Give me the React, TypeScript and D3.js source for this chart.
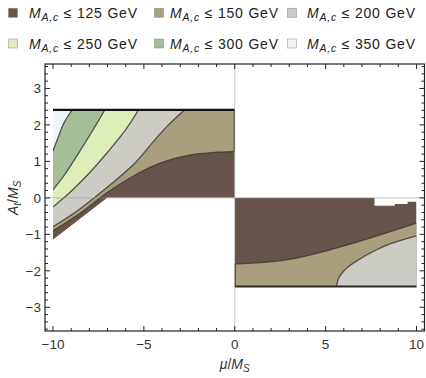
import React from "react";
import * as d3 from "d3";

type Pt = [number, number];

const levels = [125, 150, 200, 250, 300, 350];
const levelColors = ["#66544a", "#a99f7d", "#cccbc4", "#ddeeb8", "#a6be97", "#eef6fa"];

const xTicks = [-10, -5, 0, 5, 10];
const yTicks = [-3, -2, -1, 0, 1, 2, 3];

// mu < 0 half: where a solution exists
const leftDomain: Pt[] = [[-10, -1.15], [-7, 0], [0, 0], [0, 2.41], [-10, 2.41]];
// contour lines, each one is the lower edge of the next level
const left150: Pt[] = [[-10, -0.9], [-8.5, -0.42], [-7, 0.15], [-5.5, 0.62], [-4, 0.97], [-2.5, 1.17], [-1, 1.25], [0, 1.27]];
const left200: Pt[] = [[-10, -0.79], [-8.6, -0.33], [-6.75, 0.4], [-5.5, 0.95], [-4.55, 1.5], [-3.65, 2.0], [-2.76, 2.41]];
const left250: Pt[] = [[-10, -0.25], [-9, 0.18], [-8, 0.68], [-7, 1.25], [-6, 1.87], [-5.3, 2.41]];
const left300: Pt[] = [[-10, 0.22], [-9.3, 0.68], [-8.6, 1.22], [-7.85, 1.82], [-7.15, 2.41]];
const left350: Pt[] = [[-10, 1.28], [-9.7, 1.68], [-9.4, 2.05], [-8.95, 2.41]];

// mu > 0 half
const rightDomain: Pt[] = [[0, 0], [7.7, 0], [7.7, -0.21], [8.8, -0.21], [8.8, -0.17], [9.5, -0.17], [9.5, -0.1], [10, -0.1], [10, -2.43], [0, -2.43]];
const right150: Pt[] = [[0, -1.81], [1.6, -1.77], [3.4, -1.65], [5.2, -1.43], [6.8, -1.2], [8.6, -0.92], [10, -0.69]];
const right200: Pt[] = [[5.6, -2.43], [5.68, -2.25], [5.9, -2.06], [6.3, -1.87], [6.8, -1.7], [7.7, -1.45], [8.6, -1.25], [10, -1.04]];

const W = 426;
const H = 378;
const font = "'Liberation Sans', Arial, sans-serif";

export default function App() {
  const x = d3.scaleLinear().domain([-10.44, 10.44]).range([45, 424.5]);
  const y = d3.scaleLinear().domain([-3.65, 3.67]).range([331, 64]);

  const smooth = d3
    .line<Pt>()
    .x((d) => x(d[0]))
    .y((d) => y(d[1]))
    .curve(d3.curveCatmullRom.alpha(0.5));
  const poly = (pts: Pt[]) => "M" + pts.map((p) => `${x(p[0])},${y(p[1])}`).join("L") + "Z";
  const region = (curve: Pt[], closing: Pt[]) =>
    smooth(curve) + closing.map((p) => `L${x(p[0])},${y(p[1])}`).join("") + "Z";
  const closeLeft = (c: Pt[]): Pt[] => [[0, 5], [-10.5, 5], [-10.5, c[0][1]]];
  const closeRight = (c: Pt[]): Pt[] => [[10.5, -5], [c[0][0], -5]];

  const leftCurves = [left150, left200, left250, left300, left350];
  const rightCurves = [right150, right200];

  const xMinor = d3.range(-10, 11, 1);
  const yMinor = d3.range(-36, 37, 2).map((v) => v / 10);
  const [x0, x1] = x.range();
  const [y0, y1] = y.range();
  const lineCol = "#3b3b3b";

  return (
    <svg width={W} height={H} style={{ position: "absolute", left: 0, top: 0, background: "#fff" }} fontFamily={font}>
      <defs>
        <clipPath id="clipL">
          <path d={poly(leftDomain)} />
        </clipPath>
        <clipPath id="clipR">
          <path d={poly(rightDomain)} />
        </clipPath>
      </defs>

      {/* legend */}
      {levels.map((lv, i) => {
        const col = i % 3;
        const row = Math.floor(i / 3);
        const sx = [8.5, 154.5, 287.5][col];
        const tx = [29, 170, 307][col];
        const ty = [18.3, 49][row];
        return (
          <g key={lv}>
            <rect x={sx} y={ty - 10} width={9} height={9} fill={levelColors[i]} stroke="#777" strokeOpacity={0.6} strokeWidth={0.7} />
            <text x={tx} y={ty} fontSize={14} fill="#222" textLength={108} lengthAdjust="spacing">
              <tspan fontStyle="italic">M</tspan>
              <tspan fontStyle="italic" fontSize={10.5} dy={3}>A,c</tspan>
              <tspan dy={-3}>{` ≤ ${lv} GeV`}</tspan>
            </text>
          </g>
        );
      })}

      {/* left half */}
      <g clipPath="url(#clipL)">
        <path d={poly(leftDomain)} fill={levelColors[0]} />
        {leftCurves.map((c, i) => (
          <path key={i} d={region(c, closeLeft(c))} fill={levelColors[i + 1]} />
        ))}
        {leftCurves.map((c, i) => (
          <path key={"s" + i} d={smooth(c) || ""} fill="none" stroke={lineCol} strokeWidth={1.3} strokeOpacity={0.85} />
        ))}
      </g>
      <line x1={x(-10)} x2={x(0)} y1={y(2.41)} y2={y(2.41)} stroke="#111" strokeWidth={2.2} />
      <line x1={x(0) - 0.5} x2={x(0) - 0.5} y1={y(1.27)} y2={y(2.41)} stroke={lineCol} strokeWidth={1.2} />

      {/* right half */}
      <g clipPath="url(#clipR)">
        <path d={poly(rightDomain)} fill={levelColors[0]} />
        {rightCurves.map((c, i) => (
          <path key={i} d={region(c, closeRight(c))} fill={levelColors[i + 1]} />
        ))}
        {rightCurves.map((c, i) => (
          <path key={"s" + i} d={smooth(c) || ""} fill="none" stroke={lineCol} strokeWidth={1.3} strokeOpacity={0.85} />
        ))}
      </g>
      <line x1={x(0)} x2={x(10)} y1={y(-2.43)} y2={y(-2.43)} stroke="#2a2a2a" strokeWidth={2} />
      <line x1={x(0) + 0.5} x2={x(0) + 0.5} y1={y(-2.43)} y2={y(-1.81)} stroke={lineCol} strokeWidth={1.2} />

      {/* axes through origin */}
      <line x1={x0} x2={x1} y1={y(0)} y2={y(0)} stroke="#999" strokeOpacity={0.55} strokeWidth={1} />
      <line x1={x(0)} x2={x(0)} y1={y0} y2={y1} stroke="#999" strokeOpacity={0.55} strokeWidth={1} />

      {/* frame */}
      <rect x={x0} y={y1} width={x1 - x0} height={y0 - y1} fill="none" stroke="#222" strokeWidth={1.2} />
      {xMinor.map((v) => {
        const len = v % 5 === 0 ? 5 : 3;
        return (
          <g key={"xt" + v} stroke="#222" strokeWidth={1}>
            <line x1={x(v)} x2={x(v)} y1={y0} y2={y0 - len} />
            <line x1={x(v)} x2={x(v)} y1={y1} y2={y1 + len} />
          </g>
        );
      })}
      {yMinor.map((v) => {
        const len = Math.abs(v - Math.round(v)) < 1e-6 ? 5 : 3;
        return (
          <g key={"yt" + v} stroke="#222" strokeWidth={1}>
            <line x1={x0} x2={x0 + len} y1={y(v)} y2={y(v)} />
            <line x1={x1} x2={x1 - len} y1={y(v)} y2={y(v)} />
          </g>
        );
      })}
      {xTicks.map((v) => (
        <text key={"xl" + v} x={x(v)} y={y0 + 17.5} fontSize={13.5} fill="#333" textAnchor="middle">
          {v < 0 ? `\u2212${-v}` : v}
        </text>
      ))}
      {yTicks.map((v) => (
        <text key={"yl" + v} x={x0 - 4} y={y(v) + 5} fontSize={13.5} fill="#333" textAnchor="end">
          {v < 0 ? `\u2212${-v}` : v}
        </text>
      ))}

      {/* axis titles */}
      <text x={x(0)} y={369} fontSize={14} fill="#333" textAnchor="middle">
        <tspan fontStyle="italic">μ</tspan>
        <tspan>/</tspan>
        <tspan fontStyle="italic">M</tspan>
        <tspan fontStyle="italic" fontSize={10} dy={3}>S</tspan>
      </text>
      <text transform={`translate(18,${y(0)}) rotate(-90)`} fontSize={14} fill="#333" textAnchor="middle">
        <tspan fontStyle="italic">A</tspan>
        <tspan fontStyle="italic" fontSize={10} dy={3}>t</tspan>
        <tspan dy={-3}>/</tspan>
        <tspan fontStyle="italic">M</tspan>
        <tspan fontStyle="italic" fontSize={10} dy={3}>S</tspan>
      </text>
    </svg>
  );
}
